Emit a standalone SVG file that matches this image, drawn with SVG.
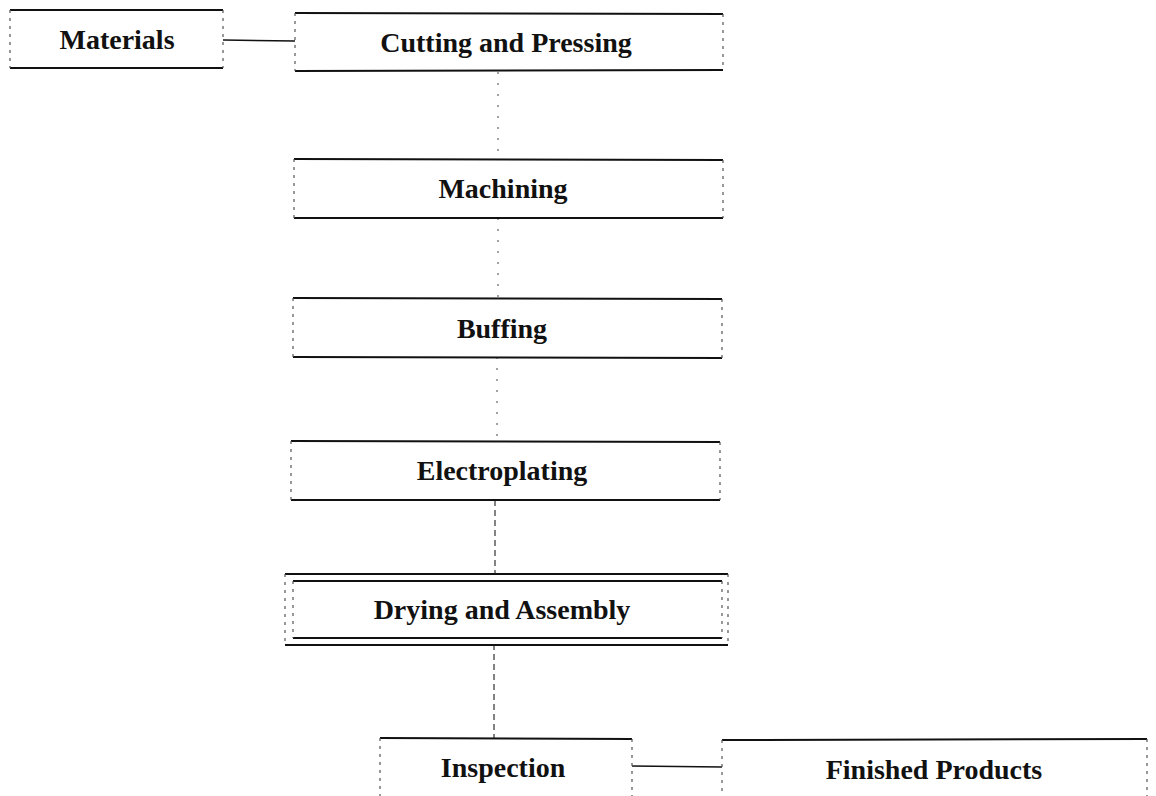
<svg xmlns="http://www.w3.org/2000/svg" width="1156" height="796" viewBox="0 0 1156 796">
<style>
.bg{fill:#ffffff}
.he{stroke:#111;stroke-width:2;fill:none}
.ve{stroke:#555;stroke-width:1.2;stroke-dasharray:3 5;fill:none}
.lbl{font-family:"Liberation Serif","Times New Roman",serif;font-weight:bold;font-size:28px;fill:#111;text-anchor:middle}
.ch{stroke:#111;stroke-width:1.6;fill:none}
.cv{stroke:#666;stroke-width:1.2;stroke-dasharray:2 9;fill:none}
.cvd{stroke:#333;stroke-width:1.2;stroke-dasharray:6 4;fill:none}
</style>
<rect class="bg" x="0" y="0" width="1156" height="796"/>
<g id="connectors">
<line class="ch" x1="223" y1="40" x2="295" y2="41"/>
<line class="cv" x1="498" y1="72" x2="498" y2="159"/>
<line class="cv" x1="498" y1="218" x2="498" y2="298"/>
<line class="cv" x1="497" y1="357" x2="497" y2="441"/>
<line class="cvd" x1="495" y1="500" x2="495" y2="573"/>
<line class="cvd" x1="494" y1="644" x2="494" y2="738"/>
<line class="ch" x1="632" y1="766" x2="722" y2="767"/>
</g>
<g id="materials">
<line class="he" x1="10" y1="10" x2="223" y2="10"/>
<line class="he" x1="10" y1="68" x2="223" y2="68"/>
<line class="ve" x1="10" y1="10" x2="10" y2="68"/>
<line class="ve" x1="223" y1="10" x2="223" y2="68"/>
<text class="lbl" x="117" y="49">Materials</text>
</g>
<g id="cutting">
<line class="he" x1="295" y1="13" x2="723" y2="14"/>
<line class="he" x1="295" y1="71" x2="723" y2="70"/>
<line class="ve" x1="295" y1="13" x2="295" y2="71"/>
<line class="ve" x1="723" y1="14" x2="723" y2="70"/>
<text class="lbl" x="506" y="52">Cutting and Pressing</text>
</g>
<g id="machining">
<line class="he" x1="294" y1="159" x2="723" y2="160"/>
<line class="he" x1="294" y1="218" x2="723" y2="218"/>
<line class="ve" x1="294" y1="159" x2="294" y2="218"/>
<line class="ve" x1="723" y1="160" x2="723" y2="218"/>
<text class="lbl" x="503" y="198">Machining</text>
</g>
<g id="buffing">
<line class="he" x1="293" y1="298" x2="722" y2="299"/>
<line class="he" x1="293" y1="357" x2="722" y2="358"/>
<line class="ve" x1="293" y1="298" x2="293" y2="357"/>
<line class="ve" x1="722" y1="299" x2="722" y2="358"/>
<text class="lbl" x="502" y="338">Buffing</text>
</g>
<g id="electroplating">
<line class="he" x1="291" y1="441" x2="720" y2="442"/>
<line class="he" x1="291" y1="500" x2="720" y2="500"/>
<line class="ve" x1="291" y1="441" x2="291" y2="500"/>
<line class="ve" x1="720" y1="442" x2="720" y2="500"/>
<text class="lbl" x="502" y="480">Electroplating</text>
</g>
<g id="drying">
<line class="he" x1="285" y1="574" x2="728" y2="574"/>
<line class="he" x1="285" y1="645" x2="728" y2="645"/>
<line class="ve" x1="285" y1="574" x2="285" y2="645"/>
<line class="ve" x1="728" y1="574" x2="728" y2="645"/>
<line class="he" x1="293" y1="581" x2="722" y2="581"/>
<line class="he" x1="293" y1="638" x2="722" y2="638"/>
<line class="ve" x1="293" y1="581" x2="293" y2="638"/>
<line class="ve" x1="722" y1="581" x2="722" y2="638"/>
<text class="lbl" x="502" y="619">Drying and Assembly</text>
</g>
<g id="inspection">
<line class="he" x1="380" y1="738" x2="632" y2="739"/>
<line class="ve" x1="380" y1="738" x2="380" y2="796"/>
<line class="ve" x1="632" y1="739" x2="632" y2="796"/>
<text class="lbl" x="503" y="777">Inspection</text>
</g>
<g id="finished">
<line class="he" x1="722" y1="740" x2="1147" y2="739"/>
<line class="ve" x1="722" y1="740" x2="722" y2="796"/>
<line class="ve" x1="1147" y1="739" x2="1147" y2="796"/>
<text class="lbl" x="934" y="779">Finished Products</text>
</g>
</svg>
